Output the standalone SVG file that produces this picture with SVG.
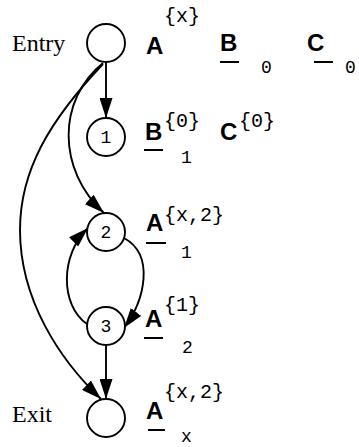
<svg xmlns="http://www.w3.org/2000/svg" width="359" height="447" viewBox="0 0 359 447">
<style>
.node{fill:#fff;stroke:#000;stroke-width:1.9}
.edge{fill:none;stroke:#000;stroke-width:1.9}
.lbl{font-family:"Liberation Serif",serif;font-size:24px;fill:#000}
.var{font-family:"Liberation Sans",Arial,sans-serif;font-weight:bold;font-size:24px;fill:#000}
.sup{font-family:"Liberation Mono","Courier New",monospace;font-size:20px;fill:#000}
.mono{font-family:"Liberation Mono","Courier New",monospace;font-size:18px;fill:#000}
.num{font-family:"Liberation Mono","Courier New",monospace;font-size:18px;fill:#000;text-anchor:middle}
.bar{stroke:#000;stroke-width:2}
</style>
<defs>
<marker id="arr" viewBox="0 0 20 13" refX="20" refY="6.5" markerWidth="20" markerHeight="13" markerUnits="userSpaceOnUse" orient="auto">
<path d="M0,0 L20,6.5 L0,13 z" fill="#000"/>
</marker>
</defs>
<g id="connectors">
<path class="edge" d="M106,62 L106,118" marker-end="url(#arr)"/>
<path class="edge" d="M103,63 C57,100 57,170 104,213" marker-end="url(#arr)"/>
<path class="edge" d="M103,64 C50,120 20,170 20,230 C20,300 60,360 101,399" marker-end="url(#arr)"/>
<path class="edge" d="M124,238 C155,255 145,300 124,328" marker-end="url(#arr)"/>
<path class="edge" d="M87,324 C60,305 60,255 88,228" marker-end="url(#arr)"/>
<path class="edge" d="M106,345 L106,399" marker-end="url(#arr)"/>
</g>
<g id="entry">
<circle class="node" cx="106" cy="43" r="19"/>
<text class="lbl" x="12" y="51">Entry</text>
<text class="var" x="146" y="54">A</text>
<text class="sup" x="164" y="22">{x}</text>
<text class="var" x="220" y="51">B</text>
<line class="bar" x1="220" y1="62" x2="239" y2="62"/>
<text class="mono" x="261" y="73">0</text>
<text class="var" x="307" y="51">C</text>
<line class="bar" x1="314" y1="62" x2="333" y2="62"/>
<text class="mono" x="345" y="73">0</text>
</g>
<g id="n1">
<circle class="node" cx="106" cy="137" r="19"/>
<text class="num" x="106" y="143">1</text>
<text class="var" x="145" y="140">B</text>
<line class="bar" x1="144" y1="150" x2="163" y2="150"/>
<text class="sup" x="164" y="127">{0}</text>
<text class="mono" x="181" y="163">1</text>
<text class="var" x="220" y="140">C</text>
<text class="sup" x="239" y="127">{0}</text>
</g>
<g id="n2">
<circle class="node" cx="106" cy="232" r="19"/>
<text class="num" x="106" y="238">2</text>
<text class="var" x="146" y="231">A</text>
<line class="bar" x1="146" y1="243" x2="166" y2="243"/>
<text class="sup" x="164" y="221">{x,2}</text>
<text class="mono" x="181" y="258">1</text>
</g>
<g id="n3">
<circle class="node" cx="106" cy="326" r="19"/>
<text class="num" x="106" y="332">3</text>
<text class="var" x="145" y="327">A</text>
<line class="bar" x1="144" y1="338" x2="163" y2="338"/>
<text class="sup" x="164" y="311">{1}</text>
<text class="mono" x="182" y="353">2</text>
</g>
<g id="exit">
<circle class="node" cx="106" cy="418" r="19"/>
<text class="lbl" x="12" y="422">Exit</text>
<text class="var" x="146" y="419">A</text>
<line class="bar" x1="148" y1="430" x2="165" y2="430"/>
<text class="sup" x="164" y="398">{x,2}</text>
<text class="mono" x="181" y="442">x</text>
</g>
</svg>
